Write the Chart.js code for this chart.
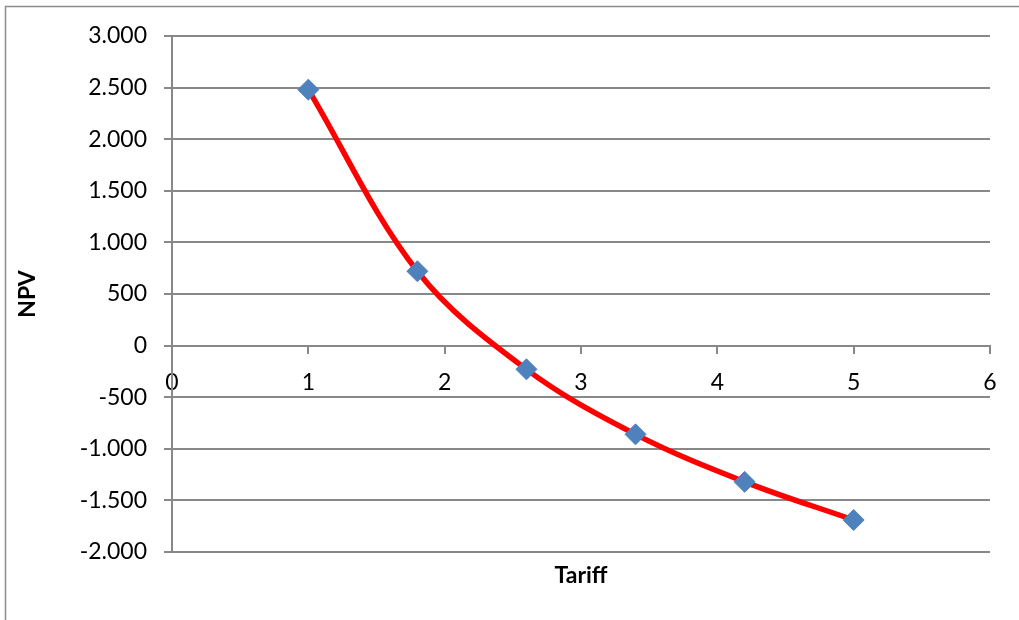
<!DOCTYPE html>
<html>
<head>
<meta charset="utf-8">
<script src="https://cdn.jsdelivr.net/npm/chart.js@4/dist/chart.umd.min.js"></script>
<style>
  html, body { margin: 0; padding: 0; background: #ffffff; }
  #wrap { width: 1019px; height: 620px; }
</style>
</head>
<body>
<div id="wrap"><canvas id="c" width="1019" height="620"></canvas></div>
<script>
// Tariff levels and the resulting net present value
const tariff = [1, 1.8, 2.6, 3.4, 4.2, 5];
const npv = [2480, 720, -230, -860, -1320, -1690];

// Axis ranges and ticks
const xRange = [0, 6];
const xStep = 1;
const yRange = [-2000, 3000];
const yStep = 500;

const xTitle = 'Tariff';
const yTitle = 'NPV';

const FONT = 'Lato, "Open Sans", sans-serif';
const GRID = '#888888';

// 2500 -> "2.500"
function dotThousands(v) {
  const s = Math.abs(v).toFixed(0).replace(/\B(?=(\d{3})+(?!\d))/g, '.');
  return (v < 0 ? '-' : '') + s;
}

const points = tariff.map((t, i) => ({ x: t, y: npv[i] }));

// Outer frame and the bottom axis title
const framePlugin = {
  id: 'frame',
  beforeDraw(chart) {
    const ctx = chart.ctx;
    ctx.save();
    ctx.strokeStyle = '#8c8c8c';
    ctx.lineWidth = 1.5;
    ctx.strokeRect(5.5, 6.5, 1200, 1200);
    ctx.restore();
  },
  afterDraw(chart) {
    const ctx = chart.ctx;
    const a = chart.chartArea;
    ctx.save();
    ctx.fillStyle = '#000000';
    ctx.font = 'bold 23px ' + FONT;
    ctx.textAlign = 'center';
    ctx.textBaseline = 'middle';
    ctx.fillText(xTitle, (a.left + a.right) / 2, 576);
    ctx.restore();
  }
};

new Chart(document.getElementById('c'), {
  type: 'scatter',
  data: {
    datasets: [{
      data: points,
      showLine: true,
      tension: 0.35,
      borderColor: '#ff0000',
      borderWidth: 5.5,
      pointStyle: 'rectRot',
      pointRadius: 10.5,
      pointHoverRadius: 10.5,
      pointBackgroundColor: '#4f81bd',
      pointBorderColor: '#4f81bd',
      pointBorderWidth: 1
    }]
  },
  options: {
    responsive: false,
    animation: false,
    events: [],
    layout: { padding: { top: 36, right: 29, bottom: 68, left: 0 } },
    plugins: {
      legend: { display: false },
      tooltip: { enabled: false }
    },
    scales: {
      x: {
        type: 'linear',
        position: { y: 0 },
        min: xRange[0],
        max: xRange[1],
        ticks: {
          stepSize: xStep,
          padding: 16,
          color: '#000000',
          font: { family: FONT, size: 23 }
        },
        grid: {
          drawOnChartArea: false,
          drawTicks: true,
          tickLength: 7,
          color: GRID,
          lineWidth: 2
        },
        border: { display: true, color: GRID, width: 2 }
      },
      y: {
        type: 'linear',
        position: 'left',
        min: yRange[0],
        max: yRange[1],
        afterFit(scale) { scale.width = 172; },
        ticks: {
          stepSize: yStep,
          padding: 17,
          color: '#000000',
          font: { family: FONT, size: 23 },
          callback: (v) => dotThousands(v)
        },
        grid: {
          drawTicks: true,
          tickLength: 8,
          color: GRID,
          lineWidth: 2
        },
        border: { display: true, color: GRID, width: 2 },
        title: {
          display: true,
          text: yTitle,
          color: '#000000',
          font: { family: FONT, size: 23, weight: 'bold' },
          padding: { top: 14, bottom: 0 }
        }
      }
    }
  },
  plugins: [framePlugin]
});
</script>
</body>
</html>
